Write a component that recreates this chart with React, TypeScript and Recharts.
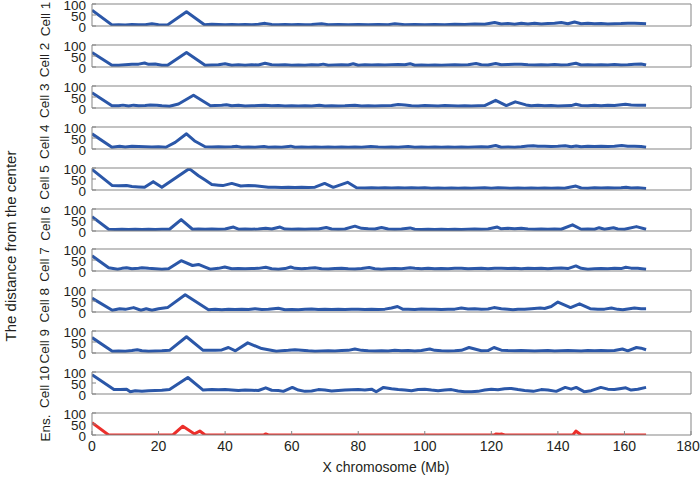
import { Line, LineChart, XAxis, YAxis } from "recharts";

type Pt = [number, number];

// distance from the center (y) against position on the X chromosome in Mb (x)
const cell1: Pt[] = [
  [0, 72], [6, 5], [8, 6], [10, 5], [12, 7], [14, 6], [16, 6], [18, 10], [20, 6], [22.7, 5], [28.4, 65], [33.8, 6],
  [36, 8], [38, 7], [40, 6], [42, 7], [44, 6], [46, 7], [48, 6], [50, 8], [52, 12], [54, 7], [56, 6], [58, 7],
  [60, 6], [62, 7], [64, 6], [66, 7], [69, 10], [71, 6], [74, 7], [77, 6], [80, 7], [83, 6], [86, 7], [89, 6],
  [91, 10], [94, 6], [97, 7], [100, 6], [103, 7], [106, 6], [109, 8], [112, 7], [115, 9], [118, 8], [121, 16],
  [123, 9], [125, 11], [127, 8], [129, 12], [131, 9], [133, 13], [135, 9], [137, 11], [139, 13], [141, 16],
  [143, 10], [145, 18], [147, 10], [149, 12], [151, 10], [153, 11], [155, 9], [157, 10], [159, 11], [161, 13],
  [163, 12], [165, 11], [166.5, 10],
];
const cell2: Pt[] = [
  [0, 66], [6, 8], [8, 8], [10, 10], [12, 12], [14, 13], [15.8, 18], [17, 12], [19, 14], [21, 8], [22.7, 8],
  [28.4, 66], [34, 8], [36, 9], [38, 10], [40, 15], [42, 8], [44, 10], [46, 8], [48, 10], [50, 9], [52, 17],
  [54, 10], [56, 9], [58, 10], [60, 8], [62, 9], [64, 8], [66, 10], [68, 9], [69.5, 13], [71, 8], [73, 9],
  [75, 10], [77, 9], [78.5, 15], [80, 8], [82, 10], [84, 9], [86, 10], [88, 9], [90, 10], [92, 11], [94, 10],
  [95.6, 15], [97, 8], [99, 9], [101, 8], [103, 9], [105, 8], [107, 9], [109, 10], [111, 9], [113, 10],
  [115.4, 16], [117, 10], [119, 9], [121.3, 16], [123, 10], [125, 11], [127, 12], [129, 12], [131, 10],
  [133, 9], [135, 10], [137, 9], [139, 11], [141, 9], [143, 10], [145.4, 17], [147, 9], [149, 10], [151, 9],
  [153, 10], [155, 9], [157, 11], [159, 9], [161, 10], [163, 12], [165, 14], [166.5, 9],
];
const cell3: Pt[] = [
  [0, 69], [6, 10], [8, 10], [9.3, 13], [11, 9], [12.5, 13], [14, 10], [16, 11], [17.5, 14], [19.5, 13],
  [21, 10], [23.3, 8], [26, 18], [30.5, 58], [35.6, 10], [37, 11], [39, 12], [40.4, 15], [42, 10], [44, 12],
  [46, 9], [48, 10], [50, 11], [52, 12], [54, 10], [56, 11], [58, 9], [60, 10], [62, 9], [64, 10], [66, 9],
  [68.3, 12], [70, 9], [72, 10], [74, 9], [76, 10], [79, 13], [81, 9], [83, 10], [85, 9], [87, 10], [90, 11],
  [92, 16], [94, 14], [96, 10], [98, 9], [100, 11], [102, 10], [104, 9], [106, 11], [108, 10], [110, 9],
  [112, 10], [114, 9], [116, 10], [118, 11], [121.3, 35], [124.5, 11], [127.2, 28], [130.4, 14], [132, 10],
  [134, 12], [136, 10], [138, 11], [140, 9], [142, 10], [144, 11], [145.4, 17], [147, 11], [149, 10],
  [151, 12], [153, 10], [155, 12], [157, 11], [160.3, 17], [162, 14], [164, 13], [166.5, 12],
];
const cell4: Pt[] = [
  [0, 69], [6, 8], [8.3, 12], [10, 9], [12, 12], [14, 11], [16, 10], [18, 9], [20, 10], [22.2, 8], [25, 30],
  [28.4, 69], [31, 35], [34, 10], [36, 9], [38, 10], [40, 9], [42, 10], [43.6, 12], [45, 8], [47, 9], [49, 8],
  [51.7, 11], [53, 8], [55, 9], [57, 8], [59.7, 13], [61, 8], [63, 9], [65, 8], [67, 9], [69, 8], [71, 9],
  [73, 8], [75, 9], [77, 8], [79, 9], [81, 8], [83.8, 11], [86, 9], [88, 8], [90, 9], [92, 8], [95, 11],
  [97, 8], [99, 9], [101, 8], [103, 9], [105, 8], [107, 9], [109, 8], [111, 9], [113, 8], [115, 9], [117, 10],
  [119, 9], [121.3, 16], [123, 8], [125, 9], [127, 8], [129, 10], [131, 14], [132.6, 15], [134, 12],
  [136, 13], [138, 11], [140, 12], [142.2, 15], [144, 10], [145.5, 14], [147, 10], [149, 12], [151, 11],
  [153, 12], [155, 11], [157, 12], [159.2, 16], [161, 13], [163, 12], [165, 11], [166.5, 8],
];
const cell5: Pt[] = [
  [0, 94], [6.1, 20], [8, 19], [10.4, 20], [12, 16], [14, 14], [15.8, 12], [18.4, 38], [21, 12], [29.2, 97],
  [32, 65], [34, 45], [36, 25], [38, 22], [39.3, 20], [42, 30], [44.7, 18], [47, 20], [49, 19], [51, 16],
  [53, 13], [55, 12], [57, 11], [59, 12], [61, 11], [63, 12], [65, 11], [67, 13], [69.9, 30], [72.5, 12],
  [74, 20], [76.8, 35], [79.5, 10], [82, 9], [84, 10], [86, 9], [88, 10], [90, 9], [92, 10], [94, 9],
  [96, 10], [98, 9], [100, 10], [102, 8], [104, 9], [106, 8], [108, 9], [110, 8], [112, 9], [114, 8],
  [116, 9], [118, 10], [120, 8], [122, 10], [124, 9], [126, 8], [128, 9], [130, 8], [132, 9], [134, 8],
  [136, 9], [138, 8], [140, 9], [142, 8], [145.4, 18], [147, 9], [149, 8], [151, 10], [153, 9], [155, 10],
  [157, 9], [159, 10], [160.5, 12], [162, 9], [164, 10], [166.5, 7],
];
const cell6: Pt[] = [
  [0, 65], [5, 8], [7, 7], [9, 8], [11, 7], [13, 8], [15, 7], [17, 8], [19, 7], [21, 8], [23.3, 8],
  [26.8, 52], [30.2, 8], [32, 9], [34, 8], [36, 9], [38, 8], [40, 9], [42.5, 18], [44, 8], [46, 9], [48, 8],
  [50, 9], [52.2, 12], [54, 9], [56.5, 18], [58, 9], [60, 8], [62, 9], [64, 8], [66, 9], [68, 9], [70.4, 16],
  [72, 9], [74, 8], [76, 9], [79, 22], [81, 12], [83, 10], [85, 9], [87, 16], [89, 9], [91, 8], [93, 9],
  [95.6, 14], [97, 8], [99, 7], [101, 8], [103, 7], [105, 8], [107, 7], [109, 8], [111, 7], [113, 8],
  [115, 9], [117, 8], [119, 9], [121.8, 18], [123, 10], [125, 12], [127, 10], [129, 12], [131, 9], [133, 8],
  [135, 9], [137, 8], [139, 9], [141, 8], [144.4, 28], [147, 8], [149, 9], [151, 8], [152.4, 15], [154, 8],
  [156.7, 15], [158, 9], [160, 8], [163.6, 20], [166.5, 8],
];
const cell7: Pt[] = [
  [0, 69], [5, 15], [7.7, 8], [9, 12], [10.4, 15], [12, 10], [14, 13], [15, 15], [17, 12], [19, 10], [21, 8],
  [23, 10], [26.8, 47], [30.2, 25], [32, 30], [34, 18], [35.5, 8], [38, 12], [39.9, 18], [42, 10], [44, 11],
  [46, 10], [48, 11], [50, 12], [52.2, 17], [54, 10], [56, 8], [58, 11], [59.7, 18], [61, 12], [63, 10],
  [65, 12], [67, 15], [69, 10], [71, 9], [73, 11], [75, 12], [77, 10], [79, 9], [81, 11], [83.3, 16],
  [85, 10], [87, 8], [89, 10], [91, 11], [93, 10], [95.6, 15], [97, 12], [99, 10], [101, 12], [103, 10],
  [105, 11], [107, 10], [109, 12], [111, 13], [113, 10], [115, 11], [117, 12], [119, 10], [121, 13],
  [123, 12], [125, 11], [127, 12], [129, 10], [131, 12], [133, 11], [135, 13], [137, 10], [139, 12],
  [141, 14], [143, 11], [145.4, 23], [147, 12], [149, 8], [151, 10], [153, 11], [155, 10], [157, 12],
  [159, 11], [160.4, 17], [162, 13], [164, 12], [166.5, 8],
];
const cell8: Pt[] = [
  [0, 63], [6.1, 8], [8.3, 15], [10, 12], [12.5, 20], [14.7, 8], [16.3, 15], [18, 8], [20, 15], [22.7, 20],
  [28, 78], [35, 10], [37, 12], [39, 10], [41, 12], [43, 11], [45, 12], [47, 11], [49, 15], [51, 11],
  [53, 12], [56, 17], [58, 10], [60, 11], [62, 10], [64, 12], [66, 14], [68, 11], [70, 12], [72, 11],
  [74, 12], [76, 11], [78, 12], [80, 13], [82, 11], [84, 12], [86, 11], [88, 13], [90, 18], [91.8, 25],
  [93.5, 12], [95, 13], [97, 11], [99, 14], [101, 12], [103, 13], [105, 11], [107, 12], [109, 13],
  [111, 18], [113, 14], [115, 15], [117, 12], [119, 14], [120.8, 20], [123, 15], [125, 12], [126.5, 10],
  [128, 13], [130, 12], [132, 15], [134.7, 18], [136, 16], [138, 25], [140, 45], [143.8, 20], [146.5, 37],
  [149.7, 15], [152, 12], [154, 13], [156.1, 18], [158, 12], [159.5, 10], [161, 14], [163, 18], [165, 15],
  [166.5, 15],
];
const cell9: Pt[] = [
  [0, 70], [6.1, 8], [8, 9], [10, 8], [12, 11], [13.6, 15], [15, 10], [17, 8], [19, 9], [21, 10],
  [23.3, 12], [28.4, 74], [33.4, 12], [35, 13], [37, 12], [39, 14], [41, 25], [43.1, 10], [46.8, 46],
  [51, 20], [53, 15], [55.4, 8], [57, 10], [59, 12], [61, 15], [63, 13], [65, 10], [67, 8], [69, 9],
  [71, 10], [73, 9], [75, 11], [77, 12], [79, 18], [81, 12], [83, 10], [85, 9], [87, 10], [89, 9],
  [91, 12], [93, 10], [95, 11], [97, 9], [99, 11], [101.5, 18], [103, 12], [105, 10], [107, 9], [109, 10],
  [111, 12], [113.3, 25], [115, 18], [117, 10], [119, 11], [120.8, 25], [123, 13], [125, 11], [127, 10],
  [129, 11], [131, 10], [133, 9], [135, 10], [137, 11], [139, 9], [141, 10], [143, 11], [145, 10], [147, 9],
  [149, 11], [151, 10], [153, 11], [155, 10], [157, 11], [159.4, 18], [161, 10], [163.6, 25], [165, 22],
  [166.5, 15],
];
const cell10: Pt[] = [
  [0, 88], [6.6, 20], [8.5, 20], [10.4, 22], [11.5, 10], [13, 15], [15, 12], [17, 15], [19, 16], [21, 17],
  [23.3, 20], [28.8, 75], [33.4, 18], [36, 20], [38, 19], [40, 20], [42, 18], [44, 16], [46, 18], [48, 17],
  [50, 16], [52.2, 28], [54, 17], [56, 16], [57.5, 12], [60.2, 30], [62, 18], [64, 12], [66, 14], [68, 20],
  [70, 18], [72, 14], [74, 16], [76, 18], [78, 19], [80, 20], [82, 18], [84, 22], [85.4, 10], [87.6, 30],
  [90, 24], [92, 20], [94, 18], [96, 15], [98, 20], [100, 22], [102, 18], [104, 15], [106, 18], [108, 20],
  [110, 14], [112, 10], [114, 10], [116, 12], [118, 18], [120, 22], [122, 19], [124, 24], [126, 25],
  [128, 20], [130, 16], [132.6, 12], [135, 20], [137, 18], [139.5, 12], [142.2, 30], [144, 22],
  [145.5, 30], [148, 10], [150, 15], [152.9, 30], [155, 22], [157, 20], [159, 25], [160.4, 28], [162, 18],
  [164, 22], [166.5, 30],
];
const ensemble: Pt[] = [
  [0, 56], [5, 0], [24.3, 0], [27.3, 40], [30.8, 5], [32.4, 18], [34, 0], [51.5, 0], [52.2, 5], [53, 0],
  [121, 0], [121.3, 5], [122.5, 3], [123, 5], [124, 0], [144.5, 0], [145.4, 18], [147, 0], [166.5, 0],
];

const panelLabels = [
  "Cell 1", "Cell 2", "Cell 3", "Cell 4", "Cell 5", "Cell 6", "Cell 7", "Cell 8", "Cell 9", "Cell 10", "Ens.",
];
const panelSeries = [cell1, cell2, cell3, cell4, cell5, cell6, cell7, cell8, cell9, cell10, ensemble];
const xTicks = [0, 20, 40, 60, 80, 100, 120, 140, 160, 180];
const yTicks = [0, 50, 100];

const FONT = "'Liberation Sans', Arial, sans-serif";
const INK = "#231f20";
const FRAME = "#858585";
const BLUE = "#2b57a8";
const RED = "#ec2f2b";

const PLOT_LEFT = 92;
const PLOT_RIGHT = 691;
const FIRST_TOP = 4;
const PITCH = 40.9;
const PANEL_H = 22;
const PAD = 8;
const AXIS_H = 34;
const Y_AXIS_W = 40;

// keeps the last x label ("180") inside the picture
function XTick({ x, y, payload }: any) {
  const cx = Math.min(x, 688);
  return (
    <text x={cx} y={y} dy="0.8em" textAnchor="middle" fontSize={14} fontFamily={FONT} fill={INK}>
      {payload.value}
    </text>
  );
}

function YTick({ x, y, payload }: any) {
  return (
    <text x={x} y={y + 1.5} dy="0.35em" textAnchor="end" fontSize={13.5} fontFamily={FONT} fill={INK}>
      {payload.value}
    </text>
  );
}

function Panel({ index }: { index: number }) {
  const last = index === panelSeries.length - 1;
  const top = FIRST_TOP + PITCH * index;
  const rows = panelSeries[index].map(([x, y]) => ({ x, y }));
  const height = PAD + PANEL_H + (last ? AXIS_H : PAD);

  return (
    <div style={{ position: "absolute", left: 0, top: top - PAD }}>
      <LineChart
        width={700}
        height={height}
        data={rows}
        margin={{
          top: PAD - 1,
          right: 700 - PLOT_RIGHT - 1,
          left: PLOT_LEFT - Y_AXIS_W,
          bottom: last ? 0 : PAD - 1,
        }}
      >
        <XAxis
          xAxisId="b"
          dataKey="x"
          type="number"
          domain={[0, 180]}
          ticks={xTicks}
          interval={0}
          allowDataOverflow
          height={last ? AXIS_H : 1}
          stroke={FRAME}
          tickSize={-4}
          tickMargin={9}
          tick={last ? <XTick /> : false}
        />
        <XAxis
          xAxisId="t"
          orientation="top"
          dataKey="x"
          type="number"
          domain={[0, 180]}
          ticks={xTicks}
          interval={0}
          allowDataOverflow
          height={1}
          stroke={FRAME}
          tickSize={-4}
          tick={false}
        />
        <YAxis
          yAxisId="l"
          type="number"
          domain={[0, 100]}
          ticks={yTicks}
          interval={0}
          allowDataOverflow
          width={Y_AXIS_W}
          stroke={FRAME}
          tickSize={-4}
          tickMargin={10}
          tick={<YTick />}
        />
        <YAxis
          yAxisId="r"
          orientation="right"
          type="number"
          domain={[0, 100]}
          ticks={yTicks}
          interval={0}
          allowDataOverflow
          width={1}
          stroke={FRAME}
          tickSize={-4}
          tick={false}
        />
        <Line
          xAxisId="b"
          yAxisId="l"
          type="linear"
          dataKey="y"
          stroke={last ? RED : BLUE}
          strokeWidth={3}
          strokeLinejoin="round"
          dot={false}
          isAnimationActive={false}
        />
      </LineChart>
    </div>
  );
}

export default function App() {
  return (
    <div style={{ position: "absolute", left: 0, top: 0, width: 700, height: 479, background: "#fff" }}>
      {panelSeries.map((_, i) => (
        <Panel key={i} index={i} />
      ))}
      <svg
        width={700}
        height={479}
        style={{ position: "absolute", left: 0, top: 0, pointerEvents: "none" }}
        fontFamily={FONT}
        fill={INK}
      >
        {panelLabels.map((label, i) => {
          const cy = FIRST_TOP + PITCH * i + PANEL_H / 2 + 4;
          return (
            <text
              key={label}
              x={45}
              y={cy}
              fontSize={13.5}
              textAnchor="middle"
              dominantBaseline="central"
              transform={`rotate(-90 45 ${cy})`}
            >
              {label}
            </text>
          );
        })}
        <text
          x={10}
          y={246}
          fontSize={15}
          textAnchor="middle"
          dominantBaseline="central"
          transform="rotate(-90 10 246)"
        >
          The distance from the center
        </text>
        <text x={386} y={467} fontSize={14} textAnchor="middle" dominantBaseline="central">
          X chromosome (Mb)
        </text>
      </svg>
    </div>
  );
}
